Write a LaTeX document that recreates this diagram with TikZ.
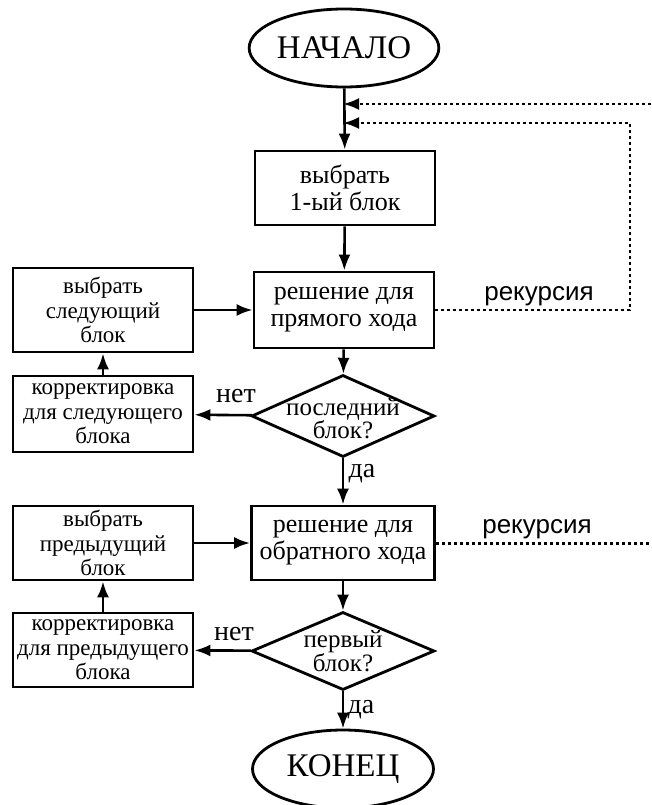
\documentclass[tikz,border=0pt]{standalone}
\usepackage{fontspec}
\setmainfont{Liberation Serif}
\newfontfamily\sansfnt{Liberation Sans}
\usetikzlibrary{shapes.geometric,arrows.meta}

\begin{document}
\begin{tikzpicture}[x=1pt,y=-1pt,
  box/.style={draw,line width=2.8pt,rectangle,minimum width=180pt,minimum height=74pt,
    inner sep=1pt,align=center,font=\fontsize{26}{27}\selectfont},
  smallbox/.style={box,font=\fontsize{23}{24.5}\selectfont},
  term/.style={draw,line width=2.8pt,ellipse,minimum width=181pt,minimum height=78pt,
    inner sep=0pt,font=\fontsize{33}{36}\selectfont},
  decide/.style={draw,line width=2.8pt,diamond,aspect=2.3,minimum width=183pt,minimum height=80pt,
    inner sep=-16pt,align=center,font=\fontsize{25}{23}\selectfont},
  arr/.style={line width=2.6pt,-{Latex[length=16pt,width=12pt]}},
  rec/.style={line width=3pt,dash pattern=on 3pt off 3pt},
  lab/.style={anchor=base,inner sep=0pt,font=\fontsize{28}{30}\selectfont},
  reclab/.style={anchor=base,inner sep=0pt,font=\sansfnt\fontsize{26}{28}\selectfont}]
  \useasboundingbox (0,0) rectangle (651,805);

  % main column
  \node[term] (start) at (344,48) {НАЧАЛО};
  \node[box] (first) at (345,188) {выбрать\\1-ый блок};
  \node[box,minimum height=76pt] (fwd) at (344,310) {решение для\\прямого хода};
  \node[decide,minimum height=82pt] (last) at (343,416) {\rule{0pt}{22pt}последний\\блок?};
  \node[box,minimum width=183pt] (bwd) at (343,543) {решение для\\обратного хода};
  \node[decide,minimum height=78pt] (firstb) at (343,651) {первый\\блок?};
  \node[term] (end) at (343,769) {КОНЕЦ};

  % left column
  \node[smallbox,minimum height=84pt] (nextb) at (103,310) {выбрать\\следующий\\блок};
  \node[smallbox,minimum height=76pt] (corrn) at (103,414) {корректировка\\для следующего\\блока};
  \node[smallbox] (prevb) at (103,543) {выбрать\\предыдущий\\блок};
  \node[smallbox] (corrp) at (103,650) {корректировка\\для предыдущего\\блока};

  % joints of the recursion lines
  \coordinate (j1) at (343,104);
  \coordinate (j2) at (343,123);
  \coordinate (e1) at (651,104);
  \coordinate (r1) at (630,123);
  \coordinate (e2) at (651,543);

  % solid arrows
  \draw[arr] (start) -- (first);
  \draw[arr] (first) -- (fwd);
  \draw[arr] (fwd) -- (last);
  \draw[arr] (last) -- (corrn);
  \draw[arr] (corrn) -- (nextb);
  \draw[arr] (nextb) -- (fwd);
  \draw[arr] (last) -- (bwd);
  \draw[arr] (bwd) -- (firstb);
  \draw[arr] (firstb) -- (corrp);
  \draw[arr] (corrp) -- (prevb);
  \draw[arr] (prevb) -- (bwd);
  \draw[arr] (firstb) -- (end);

  % recursion
  \draw[rec,arr] (e1) -- (j1);
  \draw[rec,arr] (fwd.east) -| (r1) -- (j2);
  \draw[rec] (bwd.east) -- (e2);

  % labels
  \node[reclab] (rec1) at (539,300) {рекурсия};
  \node[reclab] (rec2) at (537,533) {рекурсия};
  \node[lab] (no1) at (236,402) {нет};
  \node[lab] (no2) at (234,640) {нет};
  \node[lab] (yes1) at (362,477) {да};
  \node[lab] (yes2) at (361,713) {да};
\end{tikzpicture}
\end{document}
